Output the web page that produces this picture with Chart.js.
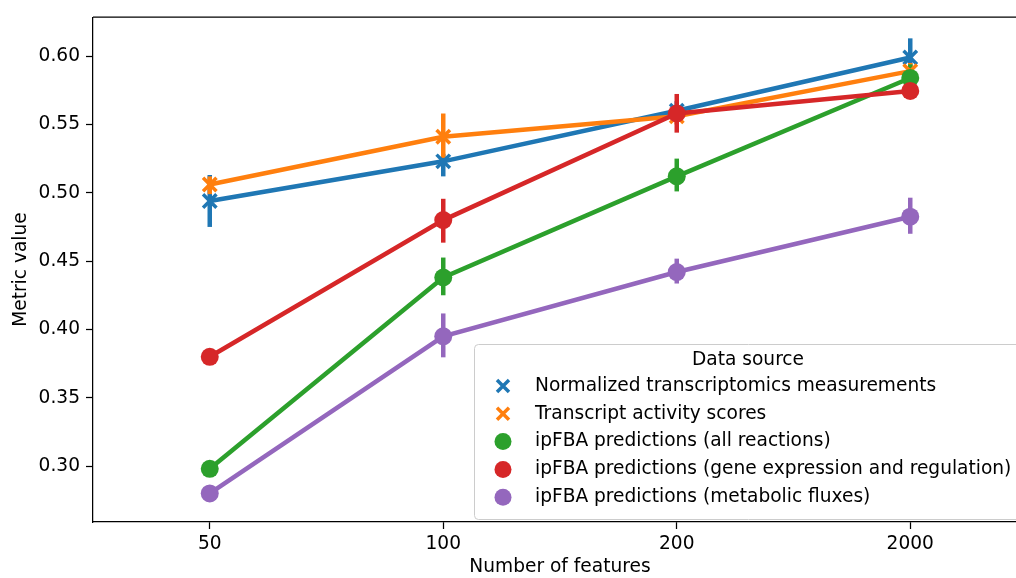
<!DOCTYPE html>
<html>
<head>
<meta charset="utf-8">
<script src="https://cdn.jsdelivr.net/npm/chart.js@4"></script>
<style>
  html, body { margin: 0; padding: 0; background: #fff; overflow: hidden; }
  #grafico { display: block; }
</style>
</head>
<body>
<canvas id="grafico" width="1040" height="578"></canvas>
<script>
const categorias = ['50', '100', '200', '2000'];
const yTicks = [0.30, 0.35, 0.40, 0.45, 0.50, 0.55, 0.60];

const nomes = [
    'Normalized transcriptomics measurements',
    'Transcript activity scores',
    'ipFBA predictions (all reactions)',
    'ipFBA predictions (gene expression and regulation)',
    'ipFBA predictions (metabolic fluxes)'
];
const cores = ['#1f77b4', '#ff7f0e', '#2ca02c', '#d62728', '#9467bd'];
const marcadores = ['crossRot', 'crossRot', 'circle', 'circle', 'circle'];

// valores medios
const normalized = [0.494, 0.523, 0.560, 0.599];
const activity   = [0.506, 0.541, 0.556, 0.589];
const allReac    = [0.298, 0.438, 0.512, 0.584];
const geneExpr   = [0.380, 0.480, 0.558, 0.5745];
const metabolic  = [0.280, 0.395, 0.442, 0.4825];

// intervalos (min / max)
const normalizedLo = [0.475, 0.512, 0.553, 0.587];
const normalizedHi = [0.513, 0.5285, 0.567, 0.613];
const activityLo   = [0.499, 0.5255, 0.550, 0.582];
const activityHi   = [0.512, 0.558, 0.562, 0.595];
const allReacLo    = [0.294, 0.425, 0.501, 0.574];
const allReacHi    = [0.302, 0.4526, 0.525, 0.594];
const geneExprLo   = [0.377, 0.4635, 0.544, 0.571];
const geneExprHi   = [0.383, 0.4956, 0.5723, 0.578];
const metabolicLo  = [0.275, 0.3796, 0.4336, 0.470];
const metabolicHi  = [0.285, 0.4117, 0.4518, 0.4964];

const series = [normalized, activity, allReac, geneExpr, metabolic];
const seriesLo = [normalizedLo, activityLo, allReacLo, geneExprLo, metabolicLo];
const seriesHi = [normalizedHi, activityHi, allReacHi, geneExprHi, metabolicHi];

const fonte = 'DejaVu Sans';
const tam = 18.6;

// barras de erro, por baixo dos pontos
const errorBars = {
    id: 'errorBars',
    beforeDatasetsDraw(chart) {
        const ctx = chart.ctx;
        const y = chart.scales.y;
        ctx.save();
        ctx.lineWidth = 4.5;
        ctx.lineCap = 'butt';
        series.forEach((s, i) => {
            const meta = chart.getDatasetMeta(i);
            ctx.strokeStyle = cores[i];
            meta.data.forEach((pt, j) => {
                ctx.beginPath();
                ctx.moveTo(pt.x, y.getPixelForValue(seriesLo[i][j]));
                ctx.lineTo(pt.x, y.getPixelForValue(seriesHi[i][j]));
                ctx.stroke();
            });
        });
        ctx.restore();
    }
};

// moldura + legenda
const legendaBox = {
    id: 'legendaBox',
    afterDraw(chart) {
        const ctx = chart.ctx;
        const a = chart.chartArea;
        ctx.save();
        // borda de cima
        ctx.strokeStyle = '#000';
        ctx.lineWidth = 1.25;
        ctx.beginPath();
        ctx.moveTo(a.left, a.top);
        ctx.lineTo(a.right, a.top);
        ctx.stroke();

        const left = 474, top = 344, bottom = 519, right = 1022;
        ctx.fillStyle = 'rgba(255,255,255,0.8)';
        ctx.strokeStyle = '#cccccc';
        ctx.lineWidth = 1;
        ctx.beginPath();
        ctx.roundRect(left + 0.5, top + 0.5, right - left, bottom - top, 4);
        ctx.fill();
        ctx.stroke();

        ctx.fillStyle = '#000';
        ctx.font = tam + 'px "' + fonte + '"';
        ctx.textBaseline = 'middle';
        ctx.textAlign = 'center';
        ctx.fillText('Data source', (left + right) / 2, 360);
        ctx.textAlign = 'left';
        nomes.forEach((n, i) => {
            const yy = 386 + i * 27.8;
            ctx.fillStyle = '#000';
            ctx.fillText(n, 535, yy);
            ctx.fillStyle = cores[i];
            ctx.strokeStyle = cores[i];
            if (marcadores[i] === 'circle') {
                ctx.beginPath();
                ctx.arc(503, yy, 8.5, 0, Math.PI * 2);
                ctx.fill();
            } else {
                ctx.lineWidth = 3.5;
                ctx.beginPath();
                ctx.moveTo(497, yy - 6); ctx.lineTo(509, yy + 6);
                ctx.moveTo(509, yy - 6); ctx.lineTo(497, yy + 6);
                ctx.stroke();
            }
        });
        ctx.restore();
    }
};

const ctx = document.getElementById('grafico').getContext('2d');
const grafico = new Chart(ctx, {
    type: 'line',
    data: {
        labels: categorias,
        datasets: series.map((s, i) => ({
            label: nomes[i],
            data: s,
            borderColor: cores[i],
            backgroundColor: cores[i],
            borderWidth: 4.5,
            pointStyle: marcadores[i],
            pointRadius: marcadores[i] === 'circle' ? 9 : 9.5,
            pointBorderWidth: marcadores[i] === 'circle' ? 0 : 3.5,
            pointBorderColor: cores[i],
            pointBackgroundColor: cores[i],
            tension: 0,
            order: 5 - i
        }))
    },
    options: {
        responsive: false,
        animation: false,
        layout: { padding: { top: 16, right: 6, left: 0, bottom: 0 } },
        plugins: {
            legend: { display: false },
            tooltip: { enabled: false }
        },
        scales: {
            x: {
                type: 'category',
                offset: true,
                grid: { display: true, drawOnChartArea: false, offset: false, tickLength: 7, color: '#000', tickWidth: 1.25 },
                border: { display: true, color: '#000', width: 1.25 },
                ticks: { color: '#000', font: { family: fonte, size: tam }, padding: 4, maxRotation: 0 },
                title: { display: true, text: 'Number of features', color: '#000', font: { family: fonte, size: tam }, padding: { top: 3, bottom: 0 } },
                afterFit(scale) { scale.height = 56; }
            },
            y: {
                min: 0.2591,
                max: 0.6285,
                grid: { display: true, drawOnChartArea: false, tickLength: 7, color: '#000', tickWidth: 1.25 },
                border: { display: true, color: '#000', width: 1.25 },
                afterBuildTicks(scale) { scale.ticks = yTicks.map(v => ({ value: v })); },
                ticks: {
                    color: '#000',
                    font: { family: fonte, size: tam },
                    padding: 6,
                    callback: (v) => Number(v).toFixed(2)
                },
                title: { display: true, text: 'Metric value', color: '#000', font: { family: fonte, size: tam }, padding: { top: 10, bottom: 4 } },
                afterFit(scale) { scale.width = 93; }
            }
        }
    },
    plugins: [errorBars, legendaBox]
});
</script>
</body>
</html>
